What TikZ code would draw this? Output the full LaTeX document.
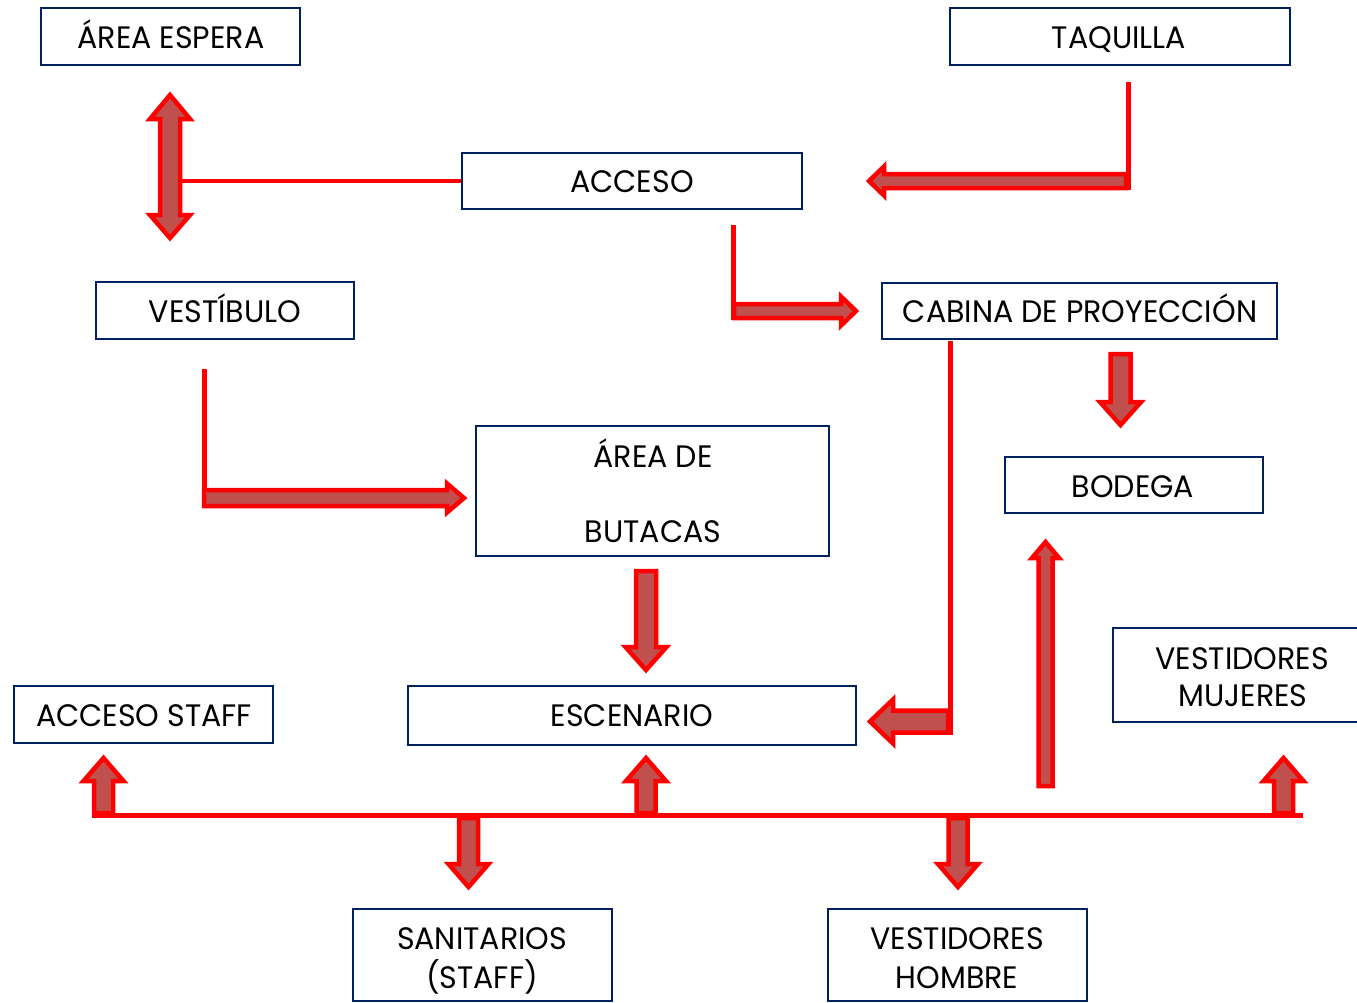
\documentclass[tikz,border=0pt]{standalone}
\usepackage{fontspec}
\setmainfont{Poppins}[FakeStretch=0.97]
\definecolor{navy}{RGB}{0,32,96}
\definecolor{arrfill}{RGB}{192,80,77}
\definecolor{arred}{RGB}{255,0,0}
\tikzset{
  box/.style={draw=navy, line width=2.6pt, fill=white, inner sep=0pt},
  lbl/.style={inner sep=0pt, text height=23pt, text depth=0pt, font=\fontsize{31}{36}\selectfont},
  barrowstyle/.style={draw=arred, fill=arrfill, line width=4.5pt, line join=miter},
  conn/.style={draw=arred, line width=4.5pt},
  pics/barrow/.style n args={4}{code={
    \filldraw[barrowstyle] (0,-#2) -- ({#1-#4},-#2) -- ({#1-#4},-#3) -- (#1,0) -- ({#1-#4},#3) -- ({#1-#4},#2) -- (0,#2) -- cycle;
  }},
}
\begin{document}
\begin{tikzpicture}[x=1pt,y=1pt]
\path[use as bounding box, clip] (0,0) rectangle (1357,-1002);
% boxes
\node[box, minimum width=259pt, minimum height=57pt] (espera) at (170.5,-36.5) {};
\node[box, minimum width=340pt, minimum height=57pt] (taquilla) at (1120,-36.5) {};
\node[box, minimum width=340pt, minimum height=56pt] (acceso) at (632,-181) {};
\node[box, minimum width=258pt, minimum height=57pt] (vestibulo) at (225,-310.5) {};
\node[box, minimum width=395pt, minimum height=56pt] (cabina) at (1079.5,-311) {};
\node[box, minimum width=353pt, minimum height=130pt] (butacas) at (652.5,-491) {};
\node[box, minimum width=258pt, minimum height=56pt] (bodega) at (1134,-485) {};
\node[box, minimum width=250pt, minimum height=94pt] (mujeres) at (1238,-675) {};
\node[box, minimum width=259pt, minimum height=57pt] (accstaff) at (143.5,-714.5) {};
\node[box, minimum width=448pt, minimum height=59pt] (escenario) at (632,-715.5) {};
\node[box, minimum width=259pt, minimum height=92pt] (sanitarios) at (482.5,-955) {};
\node[box, minimum width=259pt, minimum height=92pt] (hombre) at (957.5,-955) {};
% labels
\node[lbl] (tespera) at (171,-37) {ÁREA ESPERA};
\node[lbl] (ttaquilla) at (1119,-37) {TAQUILLA};
\node[lbl] (tacceso) at (632,-181) {ACCESO};
\node[lbl] (tvestibulo) at (225,-311) {VESTÍBULO};
\node[lbl] (tcabina) at (1080,-311) {CABINA DE PROYECCIÓN};
\node[lbl] (tbut1) at (653,-456) {ÁREA DE};
\node[lbl] (tbut2) at (653,-531) {BUTACAS};
\node[lbl] (tbodega) at (1133,-486) {BODEGA};
\node[lbl] (tmuj1) at (1242,-658) {VESTIDORES};
\node[lbl] (tmuj2) at (1243,-695) {MUJERES};
\node[lbl] (taccstaff) at (144,-715) {ACCESO STAFF};
\node[lbl] (tescenario) at (632,-715) {ESCENARIO};
\node[lbl] (tsan1) at (482,-938) {SANITARIOS};
\node[lbl] (tsan2) at (482,-977) {(STAFF)};
\node[lbl] (thom1) at (957,-938) {VESTIDORES};
\node[lbl] (thom2) at (957,-977) {HOMBRE};
% coordinates
\coordinate (dA) at (178,-181);
\coordinate (tq1) at (1128.5,-82);
\coordinate (tq2) at (1128.5,-190);
\coordinate (ac1) at (733.5,-225);
\coordinate (ac2) at (733.5,-320);
\coordinate (vb1) at (204.5,-369);
\coordinate (vb2) at (204.5,-508);
\coordinate (cb1) at (950.5,-341);
\coordinate (cb2) at (950.5,-735);
\coordinate (bus1) at (92,-815.5);
\coordinate (bus2) at (1303,-815.5);
% connector lines
\draw[conn] (dA) -- (acceso.west);
\draw[conn] (tq1) -- (tq2);
\draw[conn] (ac1) -- (ac2);
\draw[conn] (vb1) -- (vb2);
\draw[conn] (cb1) -- (cb2);
\draw[conn] (bus1) -- (bus2);
% double arrow
\filldraw[barrowstyle] (170,-95) -- (190,-119) -- (180,-119) -- (180,-215) -- (190,-215) -- (170,-238) -- (150,-215) -- (160,-215) -- (160,-119) -- (150,-119) -- cycle;
% block arrows
\pic[rotate=180] at (1126,-181) {barrow={257}{7}{14.5}{15}};
\pic at (734,-311) {barrow={122}{7}{14.5}{15}};
\pic[rotate=-90] at (1120.5,-354) {barrow={71}{10}{20.5}{23}};
\pic at (204,-498) {barrow={260}{8}{14.5}{17}};
\pic[rotate=-90] at (646,-571) {barrow={99}{10}{20.5}{23}};
\pic[rotate=180] at (948,-721.5) {barrow={78}{11}{22}{23}};
\pic[rotate=90] at (103.5,-813) {barrow={55}{9.5}{20}{23}};
\pic[rotate=90] at (646,-813) {barrow={55}{9.5}{20}{23}};
\pic[rotate=90] at (1283.5,-813) {barrow={55}{9.5}{20}{23}};
\pic[rotate=-90] at (468.5,-818) {barrow={69}{9.5}{20}{23}};
\pic[rotate=-90] at (958,-818) {barrow={69}{9.5}{20}{23}};
\pic[rotate=90] at (1045.5,-786) {barrow={244}{7}{13.5}{16}};
\end{tikzpicture}
\end{document}
